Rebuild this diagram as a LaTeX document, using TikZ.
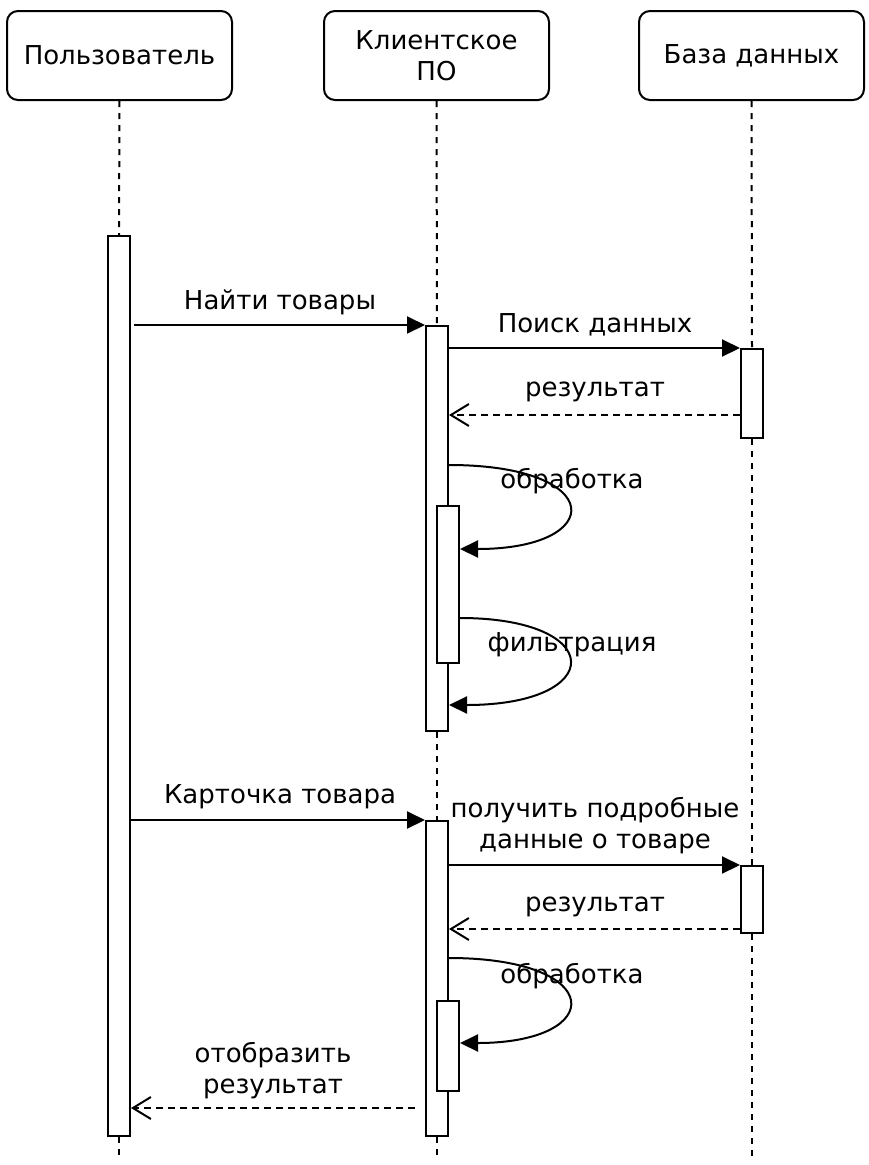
\documentclass[tikz,border=0pt]{standalone}
\usepackage{fontspec}
\setmainfont{DejaVu Sans}
\usetikzlibrary{arrows.meta,calc}
\tikzset{
  hdr/.style={draw, line width=2pt, rounded corners=11pt, fill=white, minimum width=225pt, minimum height=89pt, inner sep=0pt, align=center, font=\fontsize{26}{31}\selectfont},
  act/.style={draw, line width=2pt, fill=white, minimum width=22pt, inner sep=0pt, anchor=north},
  life/.style={line width=2pt, dash pattern=on 6pt off 6pt},
  msg/.style={line width=2pt, -{Triangle[length=18pt,width=17pt]}},
  ret/.style={line width=2pt, dash pattern=on 7pt off 5pt, -{Straight Barb[length=18pt,width=22pt]}},
  lbl/.style={inner sep=0pt, align=center, font=\fontsize{26}{31}\selectfont},
}
\begin{document}
\begin{tikzpicture}[x=1pt,y=-1pt]
\useasboundingbox (0,0) rectangle (868,1165);
% headers
\node[hdr] (u) at (119.5,55.5) {Пользователь};
\node[hdr] (c) at (436.5,55.5) {Клиентское\\ПО};
\node[hdr] (d) at (751.5,55.5) {База данных};
% activations
\node[act, minimum height=900pt] (ua) at (119,235) {};
\node[act, minimum height=405pt] (ca1) at (437,325) {};
\node[act, minimum height=157pt] (cb1) at (448,505) {};
\node[act, minimum height=315pt] (ca2) at (437,820) {};
\node[act, minimum height=90pt] (cb2) at (448,1000) {};
\node[act, minimum height=89pt] (da1) at (752,348) {};
\node[act, minimum height=67pt] (da2) at (752,865) {};
% lifeline ends
\coordinate (uend) at (119,1160);
\coordinate (cend) at (437,1160);
\coordinate (dend) at (752,1160);
% lifelines
\draw[life] (u.south) -- (ua.north);
\draw[life] (ua.south) -- (uend);
\draw[life] (c.south) -- (ca1.north);
\draw[life] (ca1.south) -- (ca2.north);
\draw[life] (ca2.south) -- (cend);
\draw[life] (d.south) -- (da1.north);
\draw[life] (da1.south) -- (da2.north);
\draw[life] (da2.south) -- (dend);
% messages
\draw[msg] ([xshift=3pt]ua.east |- ca1.north west) -- (ca1.north west);
\node[lbl] (l1) at (280,302) {Найти товары};
\draw[msg] (ca1.east |- da1.north west) -- (da1.north west);
\node[lbl] (l2) at (595,325) {Поиск данных};
\draw[ret] (da1.west |- 0,415) -- (ca1.east |- 0,415);
\node[lbl] (l3) at (595,392) {результат};
\draw[msg] (ca1.east |- 0,465) .. controls (607,465) and (607,549) .. (cb1.east |- 0,549);
\node[lbl] (l4) at (572,481) {обработка};
\draw[msg] (cb1.east |- 0,618) .. controls (607,618) and (607,705) .. (ca1.east |- 0,705);
\node[lbl] (l5) at (572,645) {фильтрация};
\draw[msg] (ua.east |- ca2.north west) -- (ca2.north west);
\node[lbl] (l6) at (280,797) {Карточка товара};
\draw[msg] (ca2.east |- da2.north west) -- (da2.north west);
\node[lbl] (l7) at (595,826) {получить подробные\\данные о товаре};
\draw[ret] (da2.west |- 0,929) -- (ca2.east |- 0,929);
\node[lbl] (l8) at (595,907) {результат};
\draw[msg] (ca2.east |- 0,958) .. controls (607,958) and (607,1043) .. (cb2.east |- 0,1043);
\node[lbl] (l9) at (572,976) {обработка};
\draw[ret] (415,1108) -- (ua.east |- 0,1108);
\node[lbl] (l10) at (273,1071) {отобразить\\результат};
\end{tikzpicture}
\end{document}
